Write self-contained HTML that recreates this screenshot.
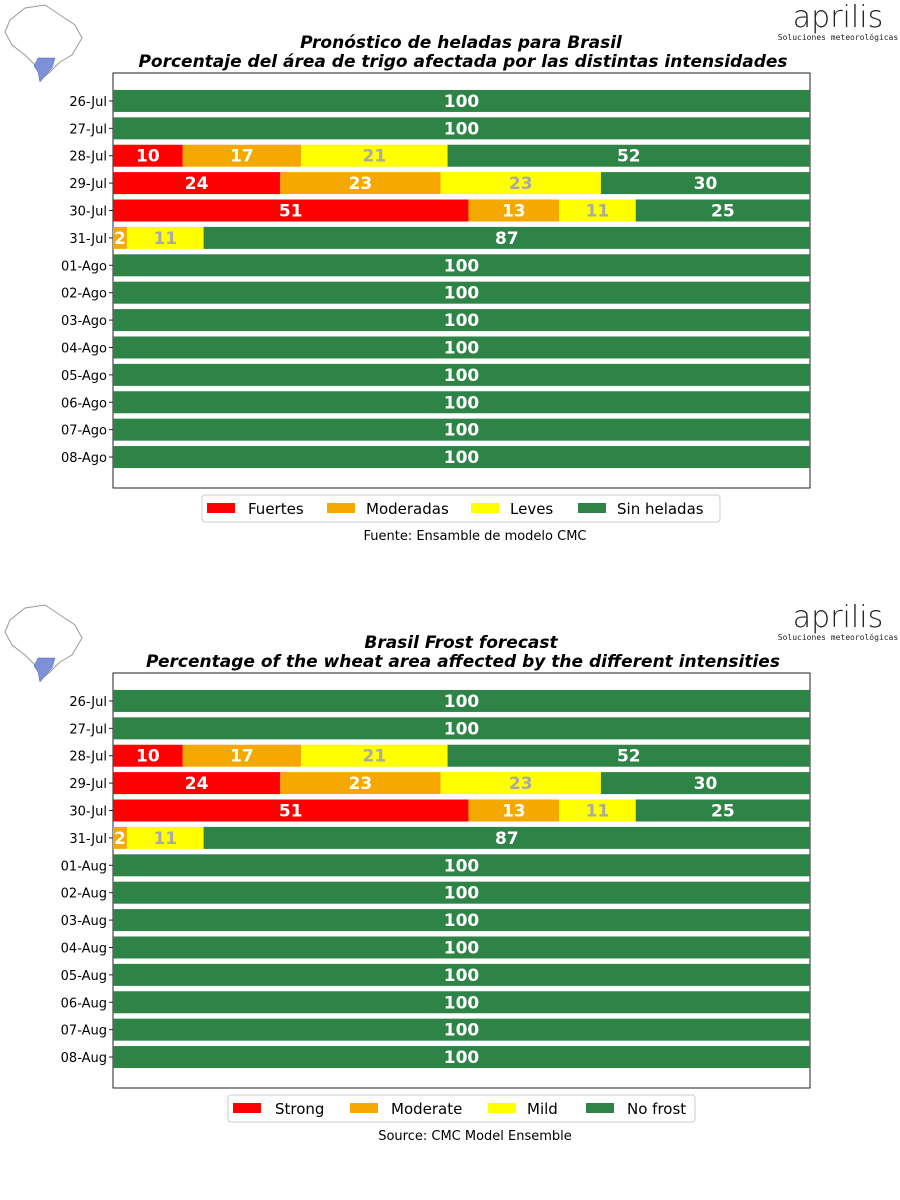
<!DOCTYPE html>
<html><head><meta charset="utf-8"><style>
body{margin:0;background:#fff;}
svg{display:block;font-family:"DejaVu Sans","Liberation Sans",sans-serif;}
</style></head><body>
<svg id="svg" width="900" height="1200" xmlns="http://www.w3.org/2000/svg"></svg>
<script>
const categoriesEs = ["26-Jul","27-Jul","28-Jul","29-Jul","30-Jul","31-Jul","01-Ago","02-Ago","03-Ago","04-Ago","05-Ago","06-Ago","07-Ago","08-Ago"];
const categoriesEn = ["26-Jul","27-Jul","28-Jul","29-Jul","30-Jul","31-Jul","01-Aug","02-Aug","03-Aug","04-Aug","05-Aug","06-Aug","07-Aug","08-Aug"];
const strongVals   = [0,0,10,24,51,0,0,0,0,0,0,0,0,0];
const moderateVals = [0,0,17,23,13,2,0,0,0,0,0,0,0,0];
const mildVals     = [0,0,21,23,11,11,0,0,0,0,0,0,0,0];
const noFrostVals  = [100,100,52,30,25,87,100,100,100,100,100,100,100,100];
const legendEs = ["Fuertes","Moderadas","Leves","Sin heladas"];
const legendEn = ["Strong","Moderate","Mild","No  frost"];

const NS="http://www.w3.org/2000/svg";
const svg=document.getElementById('svg');
function mk(tag,attrs,parent,text){const e=document.createElementNS(NS,tag);for(const k in attrs)e.setAttribute(k,attrs[k]);if(text!==undefined)e.textContent=text;(parent||svg).appendChild(e);return e;}
const colors=["#ff0000","#f5a800","#ffff00","#2e8347"];
const labelColors=["#ffffff","#ffffff","#a9a9a9","#ffffff"];
const series=[strongVals,moderateVals,mildVals,noFrostVals];

function logo(g,oy){
  const b=mk('path',{d:`M10 ${oy+20} L25 ${oy+8} L45 ${oy+5} L60 ${oy+15} L75 ${oy+25} L82 ${oy+38} L72 ${oy+55} L60 ${oy+62} L50 ${oy+72} L40 ${oy+80} L38 ${oy+68} L25 ${oy+55} L12 ${oy+45} L5 ${oy+32} Z`,fill:'none',stroke:'#999','stroke-width':1},g);
  
  const s=mk('path',{d:`M38 ${oy+58} L55 ${oy+58} L52 ${oy+68} L45 ${oy+76} L40 ${oy+82} L38 ${oy+72} L34 ${oy+66} Z`,fill:'#7f8fd8',stroke:'#5566aa','stroke-width':0.5},g);
  
  const a=mk('text',{x:838,y:oy+27,'font-size':30,'text-anchor':'middle','font-family':'"DejaVu Sans",sans-serif','font-weight':'200',fill:'#222'},g,'aprilis');
  
  const t=mk('text',{x:838,y:oy+40,'font-size':8,'text-anchor':'middle','font-family':'"DejaVu Sans Mono",monospace',fill:'#222'},g,'Soluciones meteorológicas');
  
}

function chart(oy,title1,title2,cats,legend,legBox,legPatch,legText,source){
  const g=mk('g',{});
  
  logo(g,oy);
  const x0=113,x1=810,top=oy+73,bot=oy+488;
  const xs=v=>x0+(x1-x0)*v/100;
  const rowStep=(bot-top)/(cats.length+1.15);
  const ys=i=>top+rowStep*(i+1.02);
  const bh=22;
  const t1=mk('text',{x:461,y:oy+48,'font-size':17,'font-weight':'bold','font-style':'italic','text-anchor':'middle'},g,title1);
  
  const t2=mk('text',{x:463,y:oy+67,'font-size':17,'font-weight':'bold','font-style':'italic','text-anchor':'middle'},g,title2);
  
  const ax=mk('rect',{x:x0,y:top,width:x1-x0,height:bot-top,fill:'none',stroke:'#222','stroke-width':1},g);
  
  cats.forEach((c,i)=>{
    const y=ys(i);
    const tl=mk('text',{x:x0-6,y:y+5,'font-size':13,'text-anchor':'end'},g,c);
    
    mk('line',{x1:x0-4,x2:x0,y1:y,y2:y,stroke:'#222'},g);
    let acc=0;
    series.forEach((s,k)=>{
      const v=s[i];if(!v)return;
      const r=mk('rect',{x:xs(acc),y:y-bh/2,width:xs(acc+v)-xs(acc),height:bh,fill:colors[k]},g);
      
      const lt=mk('text',{x:(xs(acc)+xs(acc+v))/2,y:y+6,'font-size':17,'font-weight':'bold','text-anchor':'middle',fill:labelColors[k]},g,String(v));
      
      acc+=v;
    });
  });
  const lb=mk('rect',{x:legBox[0],y:oy+495,width:legBox[1]-legBox[0],height:27,rx:3,fill:'#fff',stroke:'#ccc'},g);
  
  legend.forEach((l,k)=>{
    const p=mk('rect',{x:legPatch[k],y:oy+503,width:28,height:10,fill:colors[k]},g);
    
    const lt=mk('text',{x:legText[k],y:oy+514,'font-size':15},g,l);
    
  });
  const st=mk('text',{x:475,y:oy+540,'font-size':13,'text-anchor':'middle'},g,source);
  
}
chart(0,"Pronóstico de heladas para Brasil","Porcentaje del área de trigo afectada por las distintas intensidades",categoriesEs,legendEs,[202,720],[207,327,471,578],[248,366,510,617],"Fuente: Ensamble de modelo CMC");
chart(600,"Brasil Frost forecast","Percentage of the wheat area affected by the different intensities",categoriesEn,legendEn,[228,695],[233,350,488,586],[275,391,527,627],"Source: CMC Model Ensemble");
</script>
</body></html>
